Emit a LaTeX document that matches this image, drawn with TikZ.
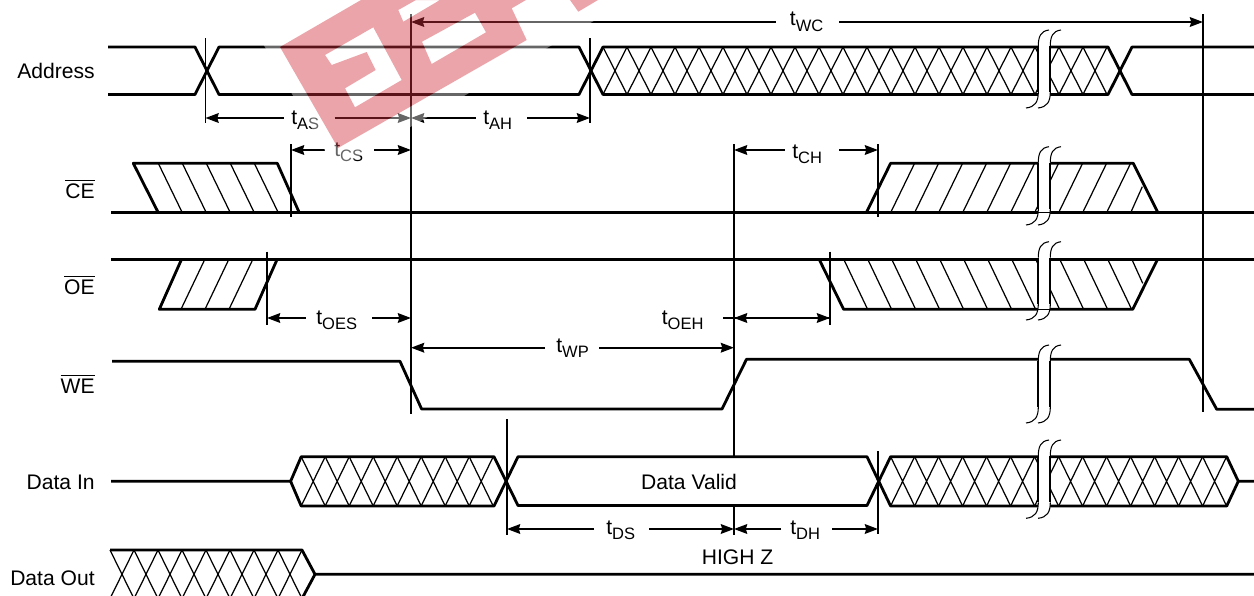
\documentclass[tikz,border=0pt]{standalone}
\usepackage{amsmath,amssymb}
\usepackage{fontspec}
\setmainfont{Liberation Sans}
\usepackage{xcolor}
\usetikzlibrary{arrows.meta}

\definecolor{logored}{RGB}{209,47,58}

\newcommand{\tsub}[1]{t\raisebox{-3pt}{\fontsize{9.4}{11}\selectfont #1}}
\newcommand{\crosshatch}[4]{%
  \foreach \k in {0,...,#2}{%
    \draw[hatchline] (#1+24*\k,#3) -- (#1+24+24*\k,#4) (#1+24*\k,#4) -- (#1+24+24*\k,#3);
  }}
\newcommand{\signalbreak}[2]{%
  \fill[white] (1049,#1) .. controls (1041,#1+1) and (1038.3,#1+6) .. (1038.3,#1+16)
    -- (1038.3,#2-16) .. controls (1038.3,#2-6) and (1035,#2-1) .. (1026,#2)
    -- (1038,#2) .. controls (1047,#2-1) and (1050.3,#2-6) .. (1050.3,#2-16)
    -- (1050.3,#1+16) .. controls (1050.3,#1+6) and (1053,#1+1) .. (1061,#1) -- cycle;
  \foreach \d in {0,12}{%
    \draw[breakline,xshift=\d*0.02cm] (1049,#1) .. controls (1041,#1+1) and (1038.3,#1+6) .. (1038.3,#1+16);
    \draw[signal,line width=1.2pt,xshift=\d*0.02cm] (1038.3,#1+16) -- (1038.3,#2-16);
    \draw[breakline,xshift=\d*0.02cm] (1038.3,#2-16) .. controls (1038.3,#2-6) and (1035,#2-1) .. (1026,#2);
  }}

\tikzset{
  signal/.style={line width=1.6pt,line join=round},
  hatchline/.style={line width=0.7pt},
  breakline/.style={line width=0.6pt},
  edge/.style={line width=1.1pt},
  tline/.style={line width=1.1pt,-{Stealth[length=7.5pt,width=5.5pt,inset=0.8pt]}},
  tlabel/.style={font=\fontsize{12}{14}\selectfont,inner sep=0pt,anchor=base west},
  siglabel/.style={font=\fontsize{12}{14}\selectfont,inner sep=0pt,anchor=base east},
  midlabel/.style={font=\fontsize{12}{14}\selectfont,inner sep=0pt,anchor=base},
  logoshape/.style={insert path={
    (280,47) -- (361,0) -- (526,0) -- (511.7,8.3) -- (526.7,40) -- (338,148) -- cycle
    (325,55) -- (373.3,27.3) -- (401.7,80) -- (355,107.3) -- (345,88.3) -- (375.7,70) -- (366.7,52) -- (331.7,65) -- cycle
    (422,41.7) -- (475,12.7) -- (486,32.3) -- (431.7,64) -- cycle
    (398.3,10) -- (416,0) -- (440,0) -- (403.3,21.7) -- cycle
    (570,0) -- (578.3,11.7) -- (598,0) -- cycle}}
}

\begin{document}
\begin{tikzpicture}[x=0.02cm,y=-0.02cm]
    \useasboundingbox (0,0) rectangle (1254,595);
    \clip (0,0) rectangle (1254,595);

    % Address
    \crosshatch{603}{20}{47}{94.5}
    \draw[signal] (108,47) -- (195,47) -- (219,94.5) -- (579,94.5) -- (603,47) -- (1108,47) -- (1132,94.5) -- (1254,94.5);
    \draw[signal] (108,94.5) -- (195,94.5) -- (219,47) -- (579,47) -- (603,94.5) -- (1108,94.5) -- (1132,47) -- (1254,47);

    % CE
    \foreach \k in {0,...,4}
      \draw[hatchline] (158.3+24*\k,163.3) -- (182.3+24*\k,212.7);
    \foreach \k in {0,...,9}
      \draw[hatchline] (890.6+24*\k,212.7) -- (914.6+24*\k,163.3);
    \draw[hatchline] (1130.7,212.7) -- (1142.3,186.7);
    \draw[signal] (111,212.7) -- (1254,212.7);
    \draw[signal] (158.3,212.7) -- (133.3,163.3) -- (277.3,163.3) -- (299.3,212.7);
    \draw[signal] (866.3,212.7) -- (890.6,163.3) -- (1133.3,163.3) -- (1158,212.7);

    % OE
    \foreach \k in {0,...,2}
      \draw[hatchline] (181+24*\k,309.3) -- (205+24*\k,259);
    \foreach \k in {0,...,11}
      \draw[hatchline] (843.6+24*\k,259) -- (867.6+24*\k,309.3);
    \draw[hatchline] (1131.7,259) -- (1142.7,283.3);
    \draw[signal] (111,259.4) -- (1254,259.4);
    \draw[signal] (181.7,259) -- (159.3,309.3) -- (255,309.3) -- (277.3,259);
    \draw[signal] (819,259) -- (843.6,309.3) -- (1132.7,309.3) -- (1157.7,259);

    % WE
    \draw[signal] (112,361.3) -- (400,361.3) -- (421.6,409) -- (722,409) -- (746.5,359.3) -- (1189.3,359.3) -- (1216.7,409.3) -- (1254,409.3);

    % Data In
    \crosshatch{301.2}{7}{456.7}{506}
    \crosshatch{890.6}{13}{456.7}{506}
    \draw[signal] (111,481.3) -- (290.6,481.3) -- (301.2,456.7) -- (494,456.7) -- (518,505.5) -- (867,505.5) -- (890.6,456.7) -- (1226.7,456.7) -- (1238.3,481.3) -- (1254,481.3);
    \draw[signal] (290.6,481.3) -- (301.2,506) -- (494,506) -- (518,456.7) -- (867,456.7) -- (890.6,506) -- (1226.7,506) -- (1238.3,481.3);

    % Data Out
    \crosshatch{110}{7}{550}{598.6}
    \draw[signal] (110,550) -- (302,550) -- (315,574.3) -- (1254,574.3);
    \draw[signal] (315,574.3) -- (302,598.6) -- (110,598.6);

    % breaks
    \signalbreak{30}{108}
    \signalbreak{146.7}{225}
    \signalbreak{241.7}{320}
    \signalbreak{345}{423}
    \signalbreak{440}{518.3}
    \draw[breakline] (1038.3,212.7) -- (1050.3,212.7);
    \draw[breakline] (1038.3,309.3) -- (1050.3,309.3);

    % timing edges
    \draw[edge] (205.5,38.3) -- (205.5,123.3);
    \draw[edge] (590,38.3) -- (590,123.3);
    \draw[edge] (411,14.3) -- (411,413.7);
    \draw[edge] (1203,14.3) -- (1203,411.7);
    \draw[edge] (291,144) -- (291,216.5);
    \draw[edge] (878,144) -- (878,216.5);
    \draw[edge] (267,251.7) -- (267,325.3);
    \draw[edge] (830,251.7) -- (830,325.3);
    \draw[edge] (734,144) -- (734,456.7);
    \draw[edge] (734,506.7) -- (734,535);
    \draw[edge] (507,419) -- (507,535);
    \draw[edge] (878,451) -- (878,534);

    % timing arrows
    \coordinate (wca) at (411,22); \coordinate (wcb) at (1203,22);
    \coordinate (asa) at (205.5,118); \coordinate (asb) at (411,118);
    \coordinate (aha) at (411,118); \coordinate (ahb) at (590,118);
    \coordinate (csa) at (291,150); \coordinate (csb) at (411,150);
    \coordinate (cha) at (734,150); \coordinate (chb) at (878,150);
    \coordinate (oesa) at (267,318); \coordinate (oesb) at (411,318);
    \coordinate (oeha) at (734,318); \coordinate (oehb) at (830,318); \coordinate (oehc) at (723,318);
    \coordinate (wpa) at (411,347.7); \coordinate (wpb) at (734,347.7);
    \coordinate (dsa) at (507,529); \coordinate (dsb) at (734,529);
    \coordinate (dha) at (734,529); \coordinate (dhb) at (878,529);

    \node[tlabel] (twc) at (789.6,26) {\tsub{WC}};
    \node[tlabel] (tas) at (291,124) {\tsub{AS}};
    \node[tlabel] (tah) at (483,124) {\tsub{AH}};
    \node[tlabel] (tcs) at (334,156) {\tsub{CS}};
    \node[tlabel] (tch) at (792,158.5) {\tsub{CH}};
    \node[tlabel] (toes) at (316,324) {\tsub{OES}};
    \node[tlabel] (toeh) at (661.5,324) {\tsub{OEH}};
    \node[tlabel] (twp) at (556,352) {\tsub{WP}};
    \node[tlabel] (tds) at (606,534.5) {\tsub{DS}};
    \node[tlabel] (tdh) at (790,534.5) {\tsub{DH}};

    \draw[tline] ([xshift=-8pt]twc.west |- wca) -- (wca);
    \draw[tline] ([xshift=9pt]twc.east |- wcb) -- (wcb);
    \draw[tline] ([xshift=-4pt]tas.west |- asa) -- (asa);
    \draw[tline] ([xshift=8.5pt]tas.east |- asb) -- (asb);
    \draw[tline] ([xshift=-4pt]tah.west |- aha) -- (aha);
    \draw[tline] ([xshift=8.5pt]tah.east |- ahb) -- (ahb);
    \draw[tline] ([xshift=-5.4pt]tcs.west |- csa) -- (csa);
    \draw[tline] ([xshift=6.2pt]tcs.east |- csb) -- (csb);
    \draw[tline] ([xshift=-4pt]tch.west |- cha) -- (cha);
    \draw[tline] ([xshift=9.6pt]tch.east |- chb) -- (chb);
    \draw[tline] ([xshift=-5.7pt]toes.west |- oesa) -- (oesa);
    \draw[tline] ([xshift=8.5pt]toes.east |- oesb) -- (oesb);
    \draw[tline] (oehc) -- (oehb);
    \draw[tline] (oehb) -- (oeha);
    \draw[tline] ([xshift=-6.2pt]twp.west |- wpa) -- (wpa);
    \draw[tline] ([xshift=5.7pt]twp.east |- wpb) -- (wpb);
    \draw[tline] ([xshift=-6.8pt]tds.west |- dsa) -- (dsa);
    \draw[tline] ([xshift=7.7pt]tds.east |- dsb) -- (dsb);
    \draw[tline] ([xshift=-5.1pt]tdh.west |- dha) -- (dha);
    \draw[tline] ([xshift=6.8pt]tdh.east |- dhb) -- (dhb);

    % labels
    \node[siglabel] (address) at (95,78.3) {Address};
    \node[siglabel] (ce) at (95,198) {$\overline{\mbox{CE}}$};
    \node[siglabel] (oe) at (95,294) {$\overline{\mbox{OE}}$};
    \node[siglabel] (we) at (95,393.3) {$\overline{\mbox{WE}}$};
    \node[siglabel] (datain) at (95,489) {Data In};
    \node[siglabel] (dataout) at (95,585.3) {Data Out};
    \node[midlabel] (datavalid) at (689,489) {Data Valid};
    \node[midlabel] (highz) at (737.5,564) {HIGH Z};

    % logo over everything
    \fill[white,opacity=0.4,even odd rule,logoshape] (262,42) -- (336,170) -- (630,0) -- (335,0) -- cycle;
    \fill[logored,opacity=0.43,even odd rule,logoshape];
\end{tikzpicture}
\end{document}
